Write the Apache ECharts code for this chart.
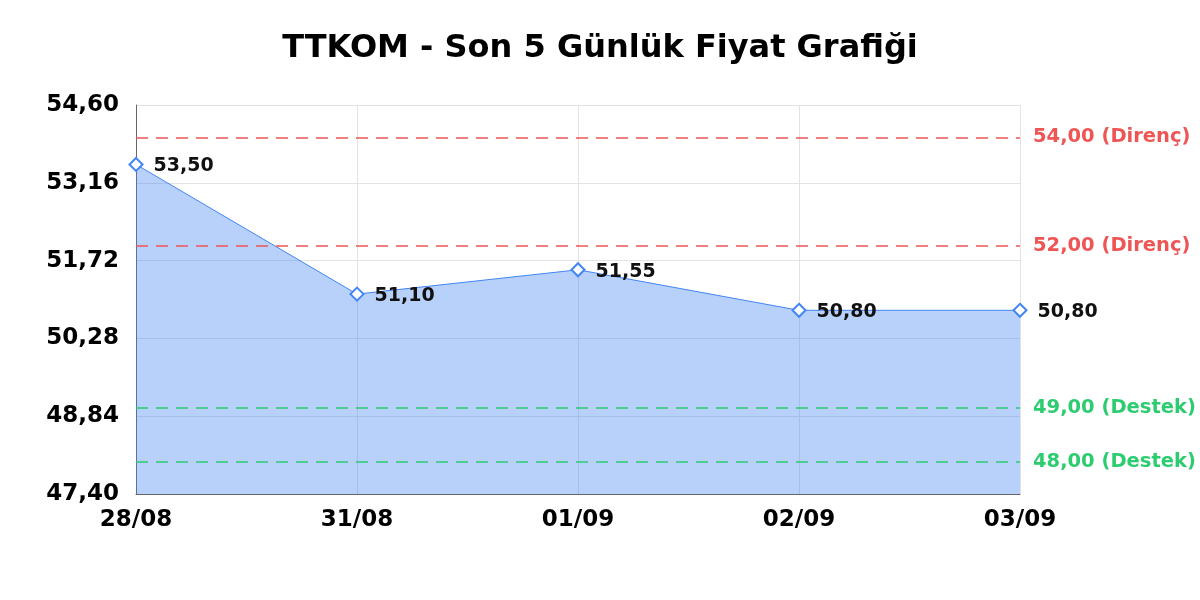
<!DOCTYPE html>
<html><head><meta charset="utf-8">
<script src="https://cdn.jsdelivr.net/npm/echarts@6/dist/echarts.min.js"></script>
<style>html,body{margin:0;padding:0;background:#fff}#c{width:1200px;height:600px}</style>
</head><body><div id="c"></div>
<script>
const categories = ['28/08','31/08','01/09','02/09','03/09'];
const prices = [53.50, 51.10, 51.55, 50.80, 50.80];
const resistance = [54.00, 52.00];
const support = [49.00, 48.00];
const yMin = 47.40, yMax = 54.60, yStep = 1.44;

const fmt = v => Number(v).toFixed(2).replace('.', ',');
const FONT = 'DejaVu Sans';
const RED = '#ee5555', GREEN = '#2ecc71', BLUE = '#4285f4';

const markData = [];
resistance.forEach(v => markData.push({yAxis: v, lineStyle:{color:RED}, label:{color:RED, formatter: fmt(v) + ' (Direnç)'}}));
support.forEach(v => markData.push({yAxis: v, lineStyle:{color:GREEN}, label:{color:GREEN, formatter: fmt(v) + ' (Destek)'}}));

const chart = echarts.init(document.getElementById('c'));
chart.setOption({
  animation: false,
  title: {text: 'TTKOM - Son 5 Günlük Fiyat Grafiği', left: 'center', top: 28,
    textStyle: {fontFamily: FONT, fontWeight: 'bold', fontSize: 32, color: '#000'}},
  grid: {left: 136, right: 180, top: 105, bottom: 106},
  xAxis: {type: 'category', data: categories, boundaryGap: false,
    axisLine: {lineStyle: {color: '#666', width: 1}}, axisTick: {show: false},
    axisLabel: {fontFamily: FONT, fontWeight: 'bold', fontSize: 23, color: '#000', margin: 15},
    splitLine: {show: true, lineStyle: {color: '#e3e3e3'}}},
  yAxis: {type: 'value', min: yMin, max: yMax, interval: yStep,
    axisLine: {show: true, lineStyle: {color: '#666', width: 1}}, axisTick: {show: false},
    axisLabel: {fontFamily: FONT, fontWeight: 'bold', fontSize: 23, color: '#000', margin: 17, formatter: fmt},
    splitLine: {show: true, lineStyle: {color: '#e3e3e3'}}},
  series: [{
    type: 'line', data: prices, z: 3,
    symbol: 'diamond', symbolSize: 13,
    itemStyle: {color: '#fff', borderColor: BLUE, borderWidth: 2},
    lineStyle: {color: BLUE, width: 1},
    areaStyle: {color: BLUE, opacity: 0.38},
    label: {show: true, position: 'right', distance: 10, offset: [0, 2], formatter: p => fmt(p.value),
      fontFamily: FONT, fontWeight: 'bold', fontSize: 19, color: '#111'},
    markLine: {symbol: 'none', silent: true, animation: false,
      lineStyle: {type: [12, 8], width: 1.5},
      label: {position: 'end', distance: 13, fontFamily: FONT, fontWeight: 'bold', fontSize: 19.5},
      data: markData}
  }]
});
</script></body></html>
